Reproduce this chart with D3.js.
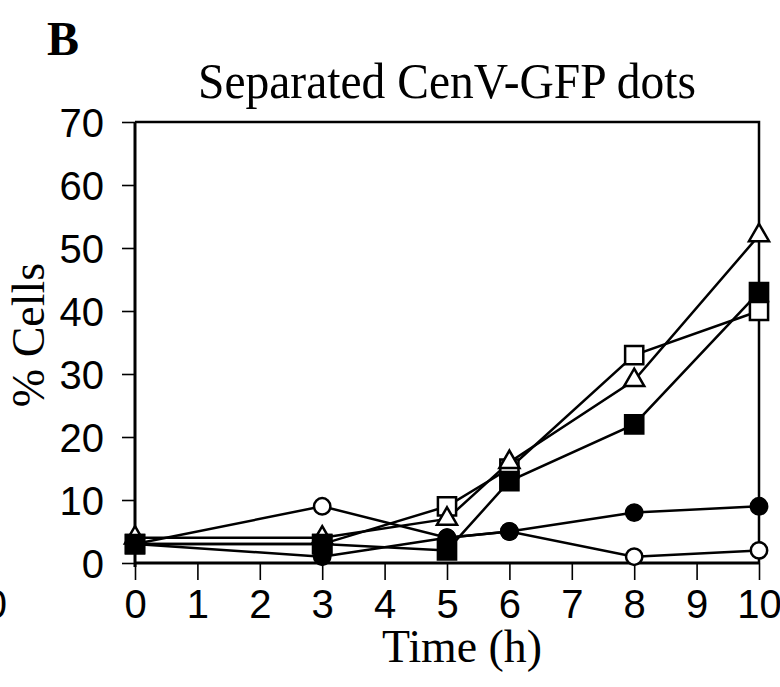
<!DOCTYPE html>
<html>
<head>
<meta charset="utf-8">
<script src="https://cdn.jsdelivr.net/npm/d3@7"></script>
<style>
  html, body { margin: 0; padding: 0; background: #fff; }
  svg { display: block; }
</style>
</head>
<body>
<svg id="chart" width="780" height="687"></svg>
<script>
// Time points (h) and % cells with separated CenV-GFP dots for each strain
const times = [0, 3, 5, 6, 8, 10];
const openCircle = [3, 9, 4, 5, 1, 2];
const filledCircle = [3, 1, 4, 5, 8, 9];
const openSquare = [3, 3, 9, 15, 33, 40];
const openTriangle = [4, 4, 7, 16, 29, 52];
const filledSquare = [3, 3, 2, 13, 22, 43];

const xTicks = [0, 1, 2, 3, 4, 5, 6, 7, 8, 9, 10];
const yTicks = [0, 10, 20, 30, 40, 50, 60, 70];

const series = [
  { values: openCircle, shape: d3.symbolCircle, size: 210, fill: "#fff" },
  { values: filledCircle, shape: d3.symbolCircle, size: 210, fill: "#000" },
  { values: openSquare, shape: d3.symbolSquare, size: 330, fill: "#fff" },
  { values: openTriangle, shape: d3.symbolTriangle, size: 175, fill: "#fff" },
  { values: filledSquare, shape: d3.symbolSquare, size: 330, fill: "#000" }
];

const svg = d3.select("#chart");
const x = d3.scaleLinear().domain([0, 10]).range([135, 759]);
const y = d3.scaleLinear().domain([0, 70]).range([563, 122]);

const serif = "Liberation Serif, Times New Roman, serif";
const sans = "Liberation Sans, Arial, sans-serif";

// Panel letter
svg.append("text")
  .attr("x", 47).attr("y", 55)
  .attr("font-family", serif)
  .attr("font-weight", "bold")
  .attr("font-size", 48)
  .text("B");

// Title
svg.append("text")
  .attr("x", 447).attr("y", 98)
  .attr("text-anchor", "middle")
  .attr("font-family", serif)
  .attr("font-size", 50)
  .attr("textLength", 498)
  .attr("lengthAdjust", "spacingAndGlyphs")
  .text("Separated CenV-GFP dots");

// Frame (top and right sides)
svg.append("path")
  .attr("d", `M${x(0)},${y(70)}H${x(10)}V${y(0)}`)
  .attr("fill", "none").attr("stroke", "#000").attr("stroke-width", 2.5);

// Axes
const xAxis = d3.axisBottom(x).tickValues(xTicks).tickSize(17).tickPadding(10).tickFormat(d3.format("d"));
const yAxis = d3.axisLeft(y).tickValues(yTicks).tickSize(13).tickPadding(18).tickFormat(d3.format("d"));

const gx = svg.append("g").attr("transform", `translate(0,${y(0)})`).call(xAxis);
const gy = svg.append("g").attr("transform", `translate(${x(0)},0)`).call(yAxis);

[gx, gy].forEach(g => {
  g.select(".domain").remove();
  g.selectAll(".tick line").attr("stroke", "#000").attr("stroke-width", 1.6);
  g.selectAll(".tick text")
    .attr("fill", "#000")
    .attr("font-family", sans)
    .attr("font-size", 40);
});
gy.selectAll(".tick text").attr("dy", "0.36em");

// Axis lines
svg.append("line")
  .attr("x1", x(0)).attr("x2", x(10)).attr("y1", y(0)).attr("y2", y(0))
  .attr("stroke", "#000").attr("stroke-width", 3);
svg.append("line")
  .attr("x1", x(0)).attr("x2", x(0)).attr("y1", y(70)).attr("y2", y(0) + 4)
  .attr("stroke", "#000").attr("stroke-width", 3);

// Axis titles
svg.append("text")
  .attr("x", 462).attr("y", 662)
  .attr("text-anchor", "middle")
  .attr("font-family", serif)
  .attr("font-size", 46)
  .attr("textLength", 160)
  .attr("lengthAdjust", "spacingAndGlyphs")
  .text("Time (h)");

svg.append("text")
  .attr("transform", `translate(44,335) rotate(-90)`)
  .attr("text-anchor", "middle")
  .attr("font-family", serif)
  .attr("font-size", 46)
  .text("% Cells");

// Edge of the neighbouring panel's axis label
svg.append("text")
  .attr("x", 7).attr("y", y(0) + 17 + 10)
  .attr("dy", "0.71em")
  .attr("text-anchor", "end")
  .attr("font-family", sans)
  .attr("font-size", 40)
  .text("10");

// Series lines
const line = d3.line().x((d, i) => x(times[i])).y(d => y(d));
series.forEach(s => {
  svg.append("path")
    .datum(s.values)
    .attr("d", line)
    .attr("fill", "none")
    .attr("stroke", "#000")
    .attr("stroke-width", 2.5);
});

// Series markers
series.forEach(s => {
  svg.append("g").selectAll("path")
    .data(s.values)
    .join("path")
    .attr("transform", (d, i) => `translate(${x(times[i])},${y(d)})`)
    .attr("d", d3.symbol().type(s.shape).size(s.size))
    .attr("fill", s.fill)
    .attr("stroke", "#000")
    .attr("stroke-width", 2.5);
});
</script>
</body>
</html>
